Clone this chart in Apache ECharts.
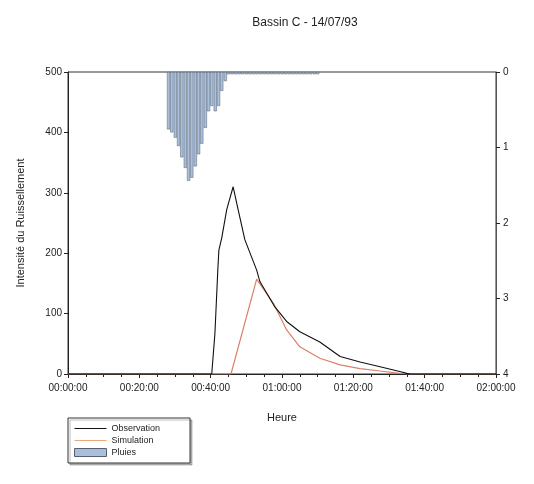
<!DOCTYPE html>
<html><head><meta charset="utf-8">
<script src="https://cdn.jsdelivr.net/npm/echarts@6/dist/echarts.min.js"></script>
<style>html,body{margin:0;padding:0;background:#fff}#c{width:534px;height:484px}</style>
</head><body><div id="c"></div>
<script>
// Time in minutes since 00:00:00
const xTicks = [0, 20, 40, 60, 80, 100, 120];
const obsTime = [0, 40.3, 41.2, 42.0, 42.3, 43.1, 44.5, 46.3, 47.7, 49.6, 52.9, 53.8, 58.0, 61.3, 65.0, 70.6, 76.3, 81.9, 87.5, 93.0, 95.0, 96.0, 120];
const obsValue = [0, 0, 68, 172, 205, 225, 272, 310, 272, 222, 172, 153, 111, 87, 70, 53, 29, 20, 12, 4, 1, 0, 0];
const simTime = [0, 45.7, 52.9, 57.6, 61.3, 65.0, 70.6, 76.3, 81.9, 87.5, 93.0, 96.0, 120];
const simValue = [0, 0, 157, 117, 73, 45, 26, 15, 9, 5, 1, 0, 0];
const rainTime = [28.2, 29.1, 30.1, 31.0, 31.9, 32.9, 33.8, 34.7, 35.7, 36.6, 37.5, 38.5, 39.4, 40.3, 41.3, 42.2, 43.1, 44.1, 45.0,
  46, 47, 48, 49, 50, 51, 52, 53, 54, 55, 56, 57, 58, 59, 60, 61, 62, 63, 64, 65, 66, 67, 68, 69, 70];
const rainValue = [0.76, 0.80, 0.87, 0.98, 1.13, 1.27, 1.44, 1.40, 1.25, 1.09, 0.95, 0.74, 0.52, 0.45, 0.52, 0.45, 0.25, 0.12, 0.03,
  0.03, 0.03, 0.03, 0.03, 0.03, 0.03, 0.03, 0.03, 0.03, 0.03, 0.03, 0.03, 0.03, 0.03, 0.03, 0.03, 0.03, 0.03, 0.03, 0.03, 0.03, 0.03, 0.03, 0.03, 0.03];
const leftTicks = [0, 100, 200, 300, 400, 500];
const rightTicks = [0, 1, 2, 3, 4];

function fmt(m) {
  const h = Math.floor(m / 60), mm = Math.round(m % 60);
  return String(h).padStart(2, '0') + ':' + String(mm).padStart(2, '0') + ':00';
}
const pair = (a, b) => a.map((t, i) => [t, b[i]]);
const F = 'Liberation Sans, Arial, sans-serif';
const lineIcon = 'path://M0,0 L0.01,0 M0,3.4 L32,3.4 L32,4.4 L0,4.4 Z M32,8 L31.99,8';
const chart = echarts.init(document.getElementById('c'), null, {renderer: 'canvas'});
chart.setOption({
  animation: false,
  backgroundColor: '#fff',
  textStyle: {fontFamily: F},
  title: {text: 'Bassin C - 14/07/93', left: 300, top: 12, textAlign: 'center',
    textStyle: {fontFamily: F, fontSize: 12, fontWeight: 'normal', color: '#222'}},
  grid: {left: 68, right: 38, top: 72, bottom: 110, show: true, borderColor: '#333', borderWidth: 1},
  legend: {
    orient: 'vertical', left: 68, top: 418, itemWidth: 32, itemHeight: 8, itemGap: 3,
    padding: [6, 30, 6, 6], borderColor: '#333', borderWidth: 1,
    shadowColor: 'rgba(0,0,0,0.25)', shadowOffsetX: 2, shadowOffsetY: 2, shadowBlur: 0,
    backgroundColor: '#fff',
    textStyle: {fontFamily: F, fontSize: 9, color: '#222'},
    data: [
      {name: 'Observation', icon: lineIcon, itemStyle: {color: '#111', borderWidth: 0}},
      {name: 'Simulation', icon: lineIcon, itemStyle: {color: '#e8a878', borderWidth: 0}},
      {name: 'Pluies', icon: 'rect', itemStyle: {color: '#a9bfdb', borderColor: '#56606e', borderWidth: 1}}
    ]
  },
  xAxis: {
    type: 'value', min: xTicks[0], max: xTicks[xTicks.length - 1], interval: 20,
    name: 'Heure', nameLocation: 'middle', nameGap: 38,
    nameTextStyle: {fontFamily: F, fontSize: 11, color: '#222'},
    axisLine: {lineStyle: {color: '#222'}},
    axisTick: {show: true, length: 4, lineStyle: {color: '#222'}},
    minorTick: {show: true, splitNumber: 4, length: 3, lineStyle: {color: '#222'}},
    splitLine: {show: false},
    axisLabel: {fontFamily: F, fontSize: 10, color: '#222', margin: 9, formatter: fmt, showMaxLabel: true}
  },
  yAxis: [{
    type: 'value', min: leftTicks[0], max: leftTicks[leftTicks.length - 1], interval: 100,
    name: 'Intensité du Ruissellement', nameLocation: 'middle', nameGap: 42, nameRotate: 90,
    nameTextStyle: {fontFamily: F, fontSize: 11, color: '#222'},
    axisLine: {show: true, lineStyle: {color: '#222'}},
    axisTick: {show: true, length: 4, lineStyle: {color: '#222'}},
    splitLine: {show: false},
    axisLabel: {fontFamily: F, fontSize: 10, color: '#222', margin: 6}
  }, {
    type: 'value', min: rightTicks[0], max: rightTicks[rightTicks.length - 1], interval: 1, inverse: true,
    position: 'right',
    axisLine: {show: true, lineStyle: {color: '#555'}},
    axisTick: {show: true, length: 4, lineStyle: {color: '#222'}},
    splitLine: {show: false},
    axisLabel: {fontFamily: F, fontSize: 10, color: '#222', margin: 7}
  }],
  series: [{
    name: 'Pluies', type: 'bar', yAxisIndex: 1, barWidth: 3.2, barGap: '0%',
    itemStyle: {color: '#a9bfdb', borderColor: '#56606e', borderWidth: 0.5},
    data: pair(rainTime, rainValue), z: 1
  }, {
    name: 'Observation', type: 'line', symbol: 'none', yAxisIndex: 0,
    lineStyle: {color: '#111', width: 1.1}, itemStyle: {color: '#111'},
    data: pair(obsTime, obsValue), z: 3
  }, {
    name: 'Simulation', type: 'line', symbol: 'none', yAxisIndex: 0,
    lineStyle: {color: '#d98068', width: 1.2}, itemStyle: {color: '#e8a878'},
    data: pair(simTime, simValue), z: 2
  }]
});
</script></body></html>
